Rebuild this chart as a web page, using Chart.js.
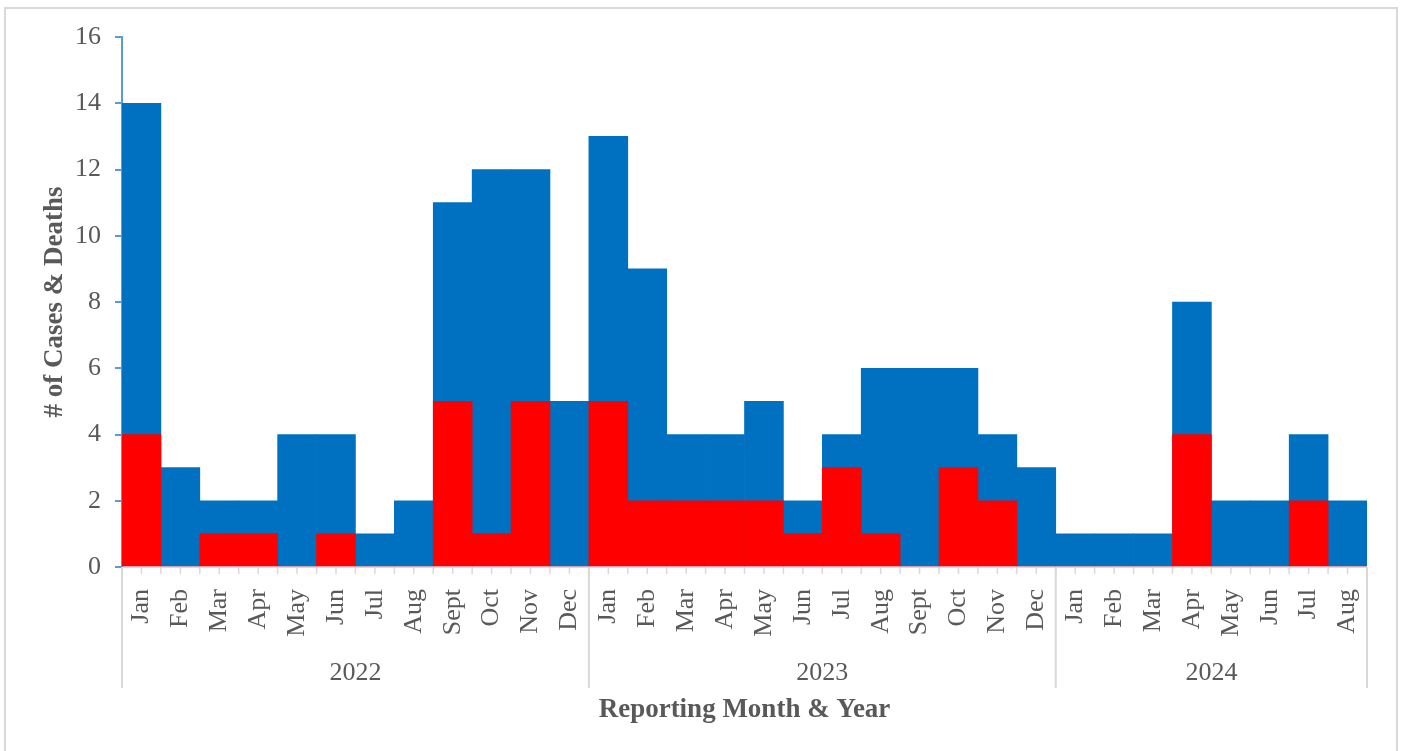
<!DOCTYPE html>
<html>
<head>
<meta charset="utf-8">
<title>Cases & Deaths by Reporting Month</title>
<script src="https://cdn.jsdelivr.net/npm/chart.js@4/dist/chart.umd.min.js"></script>
<style>
  html, body { margin: 0; padding: 0; background: #fff; overflow: hidden; }
  #frame {
    position: absolute; left: 4px; top: 7px; width: 1394px; height: 760px;
    border: 2px solid #d9d9d9; box-sizing: border-box;
  }
  #wrap { position: absolute; left: 0; top: 0; width: 1402px; height: 751px; }
</style>
</head>
<body>
<div id="frame"></div>
<div id="wrap"><canvas id="myChart" width="1402" height="751"></canvas></div>
<script>
// monthly counts, Jan 2022 - Aug 2024
const months = [
  'Jan', 'Feb', 'Mar', 'Apr', 'May', 'Jun', 'Jul', 'Aug', 'Sept', 'Oct', 'Nov', 'Dec',
  'Jan', 'Feb', 'Mar', 'Apr', 'May', 'Jun', 'Jul', 'Aug', 'Sept', 'Oct', 'Nov', 'Dec',
  'Jan', 'Feb', 'Mar', 'Apr', 'May', 'Jun', 'Jul', 'Aug'
];
const years = ['2022', '2023', '2024'];
const monthsPerYear = [12, 12, 8];
const cases = [
  14, 3, 2, 2, 4, 4, 1, 2, 11, 12, 12, 5,
  13, 9, 4, 4, 5, 2, 4, 6, 6, 6, 4, 3,
  1, 1, 1, 8, 2, 2, 4, 2
];
const deaths = [
  4, 0, 1, 1, 0, 1, 0, 0, 5, 1, 5, 0,
  5, 2, 2, 2, 2, 1, 3, 1, 0, 3, 2, 0,
  0, 0, 0, 4, 0, 0, 2, 0
];
const yTicks = [0, 2, 4, 6, 8, 10, 12, 14, 16];

const textColor = '#595959';
const lightGray = '#d9d9d9';
const serif = "'Liberation Serif', 'Times New Roman', serif";

// year groups, tick marks and separators under the month labels
const yearAxis = {
  id: 'yearAxis',
  afterDraw(chart) {
    const ctx = chart.ctx;
    const x = chart.scales.x;
    const half = (x.getPixelForValue(1) - x.getPixelForValue(0)) / 2;
    const base = chart.chartArea.bottom;
    ctx.save();

    // small ticks at every edge and centre of a category
    ctx.strokeStyle = lightGray;
    ctx.lineWidth = 1.5;
    ctx.beginPath();
    for (let i = 0; i < months.length; i++) {
      const c = x.getPixelForValue(i);
      ctx.moveTo(c - half, base); ctx.lineTo(c - half, base + 7);
      ctx.moveTo(c, base); ctx.lineTo(c, base + 7);
    }
    ctx.stroke();

    // year separators and labels
    ctx.lineWidth = 2;
    ctx.fillStyle = textColor;
    ctx.font = '26px ' + serif;
    ctx.textAlign = 'center';
    ctx.textBaseline = 'middle';
    let start = 0;
    years.forEach((yr, k) => {
      const end = start + monthsPerYear[k] - 1;
      const x0 = x.getPixelForValue(start) - half;
      const x1 = x.getPixelForValue(end) + half;
      ctx.beginPath();
      ctx.moveTo(x0, base); ctx.lineTo(x0, base + 121);
      if (k === years.length - 1) { ctx.moveTo(x1, base); ctx.lineTo(x1, base + 121); }
      ctx.stroke();
      ctx.fillText(yr, (x0 + x1) / 2, base + 106);
      start = end + 1;
    });
    ctx.restore();
  }
};

const ctx = document.getElementById('myChart').getContext('2d');
new Chart(ctx, {
  type: 'bar',
  data: {
    labels: months,
    datasets: [{
      label: 'Deaths',
      data: deaths,
      backgroundColor: '#ff0000',
      borderWidth: 0,
      grouped: false,
      barPercentage: 1,
      categoryPercentage: 1
    }, {
      label: 'Cases',
      data: cases,
      backgroundColor: '#0070c0',
      borderWidth: 0,
      grouped: false,
      barPercentage: 1,
      categoryPercentage: 1
    }]
  },
  options: {
    responsive: false,
    animation: false,
    layout: { padding: { left: 0, right: 35, top: 37, bottom: 0 } },
    plugins: {
      legend: { display: false },
      tooltip: { enabled: false }
    },
    scales: {
      x: {
        afterFit(scale) { scale.height = 184; },
        grid: { display: false },
        border: { display: true, color: lightGray, width: 1 },
        ticks: {
          color: textColor,
          font: { family: serif, size: 26 },
          minRotation: 90,
          maxRotation: 90,
          autoSkip: false,
          padding: 14
        },
        title: {
          display: true,
          text: 'Reporting Month & Year',
          color: textColor,
          font: { family: serif, size: 27, weight: 'bold' },
          padding: { top: 0, bottom: 25 }
        }
      },
      y: {
        min: 0,
        max: 16,
        afterFit(scale) { scale.width = 122; },
        afterBuildTicks(scale) { scale.ticks = yTicks.map(v => ({ value: v })); },
        grid: {
          drawOnChartArea: false,
          tickLength: 7,
          color: '#5b9bd5',
          lineWidth: 2
        },
        border: { color: '#5b9bd5', width: 2 },
        ticks: {
          color: textColor,
          font: { family: serif, size: 26 },
          padding: 14
        },
        title: {
          display: true,
          text: '# of Cases & Deaths',
          color: textColor,
          font: { family: serif, size: 27, weight: 'bold' },
          padding: { top: 39, bottom: 0 }
        }
      }
    }
  },
  plugins: [yearAxis]
});
</script>
</body>
</html>
